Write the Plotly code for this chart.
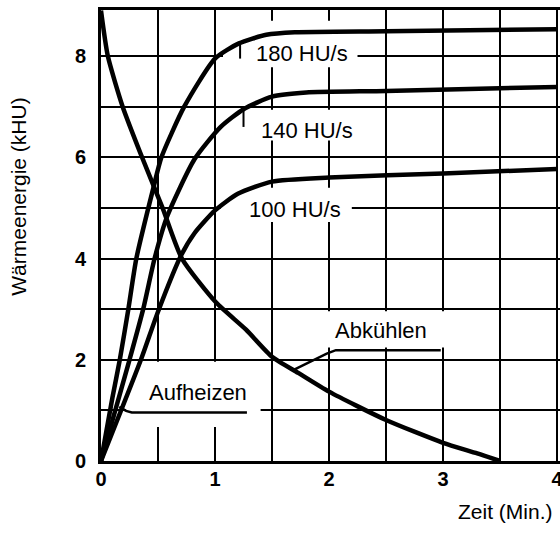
import plotly.graph_objects as go

# ---- data ----
x_180 = [0, 0.10, 0.165, 0.24, 0.31, 0.46, 0.53, 0.73, 1.0, 1.21, 1.45, 1.7, 2.5, 4.0]
y_180 = [0, 1.25, 2.0, 3.0, 4.0, 5.4, 6.0, 7.0, 7.95, 8.25, 8.42, 8.47, 8.49, 8.53]

x_140 = [0, 0.25, 0.37, 0.47, 0.58, 0.82, 1.05, 1.25, 1.5, 1.8, 2.5, 4.0]
y_140 = [0, 2.0, 3.0, 4.0, 4.83, 5.96, 6.6, 6.95, 7.2, 7.28, 7.31, 7.39]

x_100 = [0, 0.35, 0.5, 0.7, 0.82, 1.0, 1.2, 1.5, 2.0, 3.0, 4.0]
y_100 = [0, 2.0, 2.95, 4.05, 4.5, 4.95, 5.28, 5.52, 5.6, 5.68, 5.77]

x_cool = [0, 0.06, 0.19, 0.36, 0.54, 0.71, 1.01, 1.27, 1.5, 1.73, 2.0, 2.5, 3.0, 3.3, 3.5]
y_cool = [8.9, 8.0, 7.0, 6.0, 5.0, 4.0, 3.13, 2.6, 2.06, 1.74, 1.37, 0.81, 0.36, 0.15, 0.0]

x_tickvals = [0, 1, 2, 3, 4]
x_ticktext = ["0", "1", "2", "3", "4"]
y_tickvals = [0, 2, 4, 6, 8]
y_ticktext = ["0", "2", "4", "6", "8"]

curve_labels = ["180 HU/s", "140 HU/s", "100 HU/s"]
heat_label = "Aufheizen"
cool_label = "Abkühlen"
x_title = "Zeit (Min.)"
y_title = "Wärmeenergie (kHU)"

FONT = "Liberation Sans, Arial, Helvetica, sans-serif"

fig = go.Figure()
for xs, ys in [(x_180, y_180), (x_140, y_140), (x_100, y_100), (x_cool, y_cool)]:
    fig.add_trace(go.Scatter(x=xs, y=ys, mode="lines",
                             line=dict(color="black", width=4.5, shape="spline", smoothing=0.6),
                             hoverinfo="skip", showlegend=False))

shapes = []
# white masks that hide grid lines behind the labels
for x0, x1, y0, y1 in [(1.07, 2.25, 7.78, 8.70), (1.30, 2.25, 6.33, 6.94),
                       (1.05, 2.20, 4.72, 5.40), (0.22, 1.40, 0.67, 1.96),
                       (1.60, 3.15, 2.24, 2.96)]:
    shapes.append(dict(type="rect", xref="x", yref="y", x0=x0, x1=x1, y0=y0, y1=y1,
                       fillcolor="white", line=dict(width=0), layer="between"))
# leader lines
shapes.append(dict(type="path", xref="x", yref="y",
                   path="M 0.16 1.07 L 0.22 0.99 L 0.27 0.96 L 1.28 0.96",
                   line=dict(color="black", width=2.5)))
shapes.append(dict(type="path", xref="x", yref="y",
                   path="M 1.69 1.80 L 1.98 2.12 L 2.06 2.19 L 2.98 2.19",
                   line=dict(color="black", width=2.5)))
shapes.append(dict(type="line", xref="x", yref="y", x0=1.22, x1=1.22, y0=7.95, y1=8.22,
                   line=dict(color="black", width=2)))
shapes.append(dict(type="line", xref="x", yref="y", x0=1.25, x1=1.25, y0=6.6, y1=6.92,
                   line=dict(color="black", width=2)))

annotations = []
for (tx, ty), txt in zip([(1.76, 8.05), (1.81, 6.53), (1.70, 4.97)], curve_labels):
    annotations.append(dict(x=tx, y=ty, xref="x", yref="y", text=txt, showarrow=False,
                            font=dict(family=FONT, size=22, color="black")))
annotations.append(dict(x=0.85, y=1.35, xref="x", yref="y", text=heat_label, showarrow=False,
                        font=dict(family=FONT, size=22, color="black")))
annotations.append(dict(x=2.46, y=2.57, xref="x", yref="y", text=cool_label, showarrow=False,
                        font=dict(family=FONT, size=22, color="black")))
annotations.append(dict(x=0.9786, y=-0.111, xref="paper", yref="paper", text=x_title,
                        showarrow=False, xanchor="right", yanchor="middle",
                        font=dict(family=FONT, size=21, color="black")))
annotations.append(dict(x=-0.1777, y=0.585, xref="paper", yref="paper", text=y_title,
                        showarrow=False, textangle=-90, xanchor="center", yanchor="middle",
                        font=dict(family=FONT, size=21, color="black")))

fig.update_layout(
    width=568, height=533,
    margin=dict(l=101, r=0, t=10, b=72),
    paper_bgcolor="white", plot_bgcolor="white",
    showlegend=False,
    shapes=shapes, annotations=annotations,
    xaxis=dict(range=[0, 4.07], tickvals=x_tickvals, ticktext=x_ticktext,
               showgrid=True, gridcolor="black", gridwidth=2,
               minor=dict(dtick=0.5, tick0=0, showgrid=True, gridcolor="black", gridwidth=2),
               showline=True, linecolor="black", linewidth=3, mirror=True,
               zeroline=False, ticks="", ticklabelstandoff=-2, ticklabeloverflow="allow",
               tickfont=dict(family=FONT, size=20, color="black", weight="bold")),
    yaxis=dict(range=[0, 8.91], tickvals=y_tickvals, ticktext=y_ticktext,
               showgrid=True, gridcolor="black", gridwidth=2,
               minor=dict(dtick=1, tick0=0, showgrid=True, gridcolor="black", gridwidth=2),
               showline=True, linecolor="black", linewidth=3, mirror=True,
               zeroline=False, ticks="", ticklabelstandoff=8,
               tickfont=dict(family=FONT, size=20, color="black", weight="bold")),
)

# remove the browser's default 8 px body margin so the figure starts at the window corner
fig.write_html("out.html",
               config={"displayModeBar": False, "staticPlot": True},
               post_script="document.body.style.margin='0';document.body.style.overflow='hidden';")
